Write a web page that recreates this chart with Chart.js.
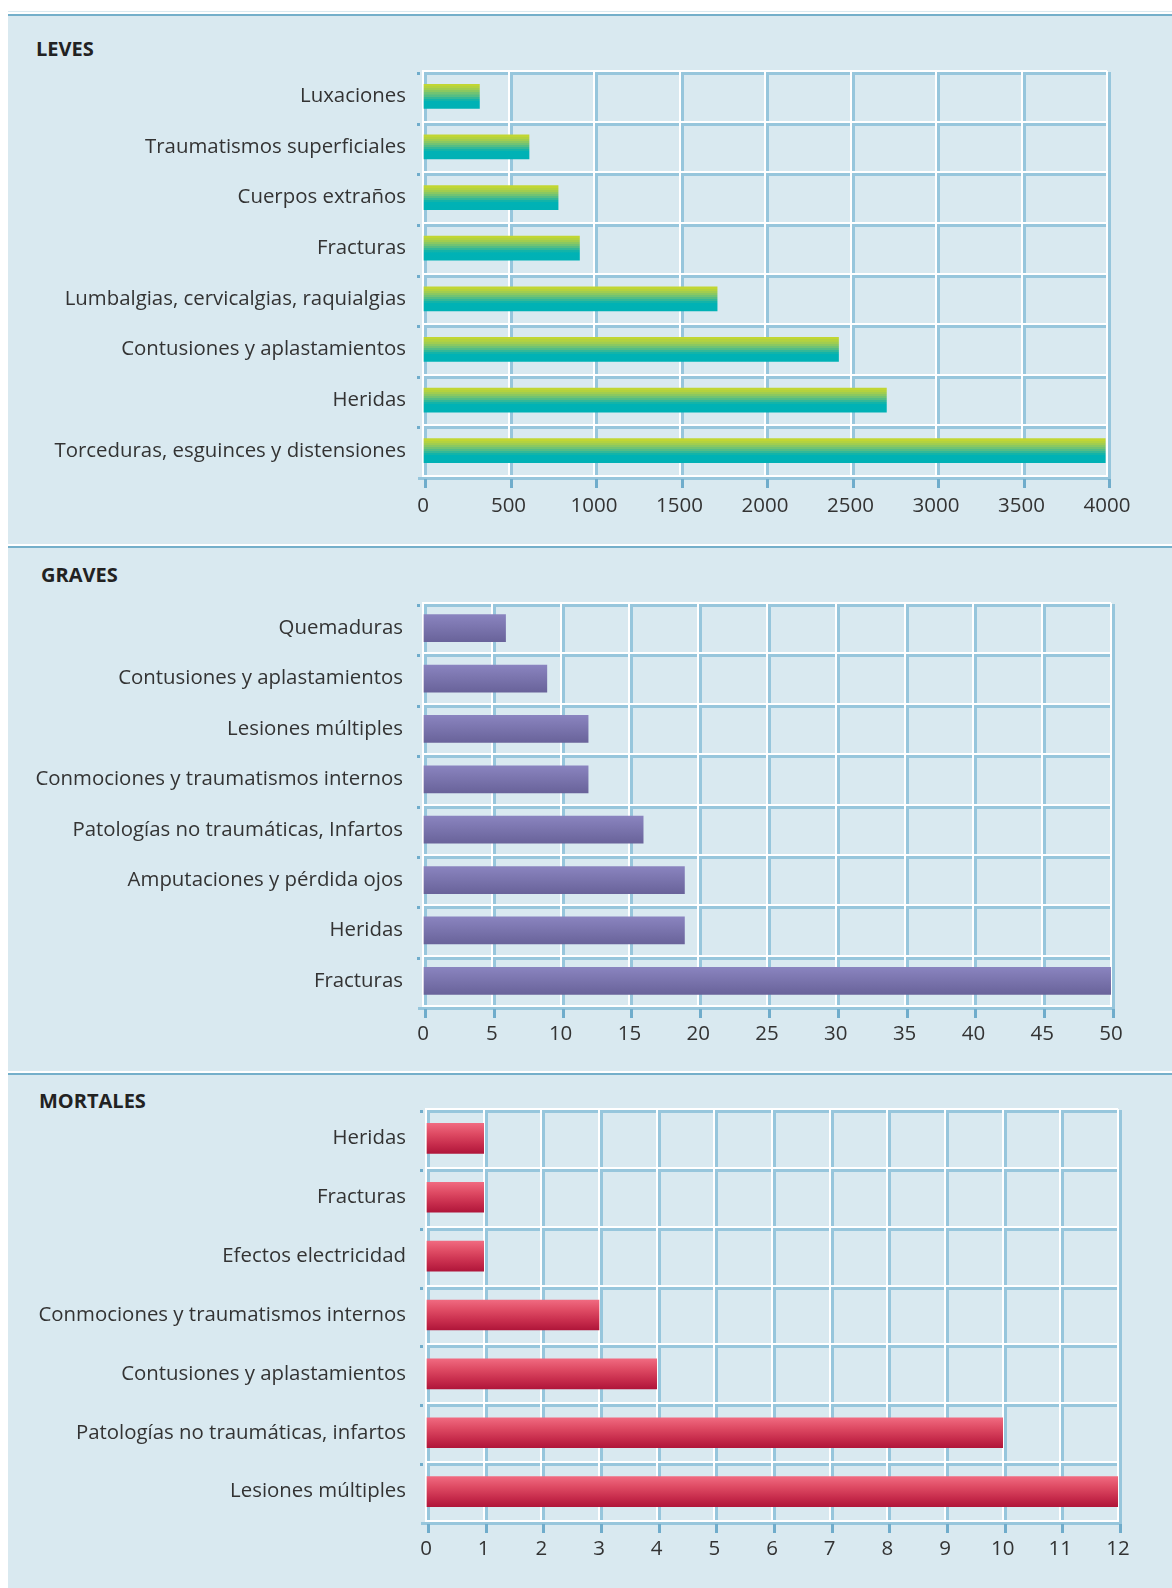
<!DOCTYPE html>
<html>
<head>
<meta charset="utf-8">
<script src="https://cdn.jsdelivr.net/npm/chart.js@4.4.1/dist/chart.umd.min.js"></script>
<style>
  body { margin: 0; background: #fff; width: 1172px; height: 1588px; position: relative; overflow: hidden; font-family: 'Open Sans', sans-serif; }
  #bg { position: absolute; left: 8px; top: 11px; right: 0; bottom: 0; background: #d9e9f0; }
  .sep { position: absolute; left: 8px; right: 0; height: 2px; background: #74afca; border-top: 2px solid #fff; }
  .title { position: absolute; font-weight: bold; font-size: 20px; color: #222; line-height: 20px; }
  canvas { position: absolute; left: 8px; }
</style>
</head>
<body>
<div id="bg"></div>
<div class="sep" style="top:12px"></div>
<div class="sep" style="top:544px"></div>
<div class="sep" style="top:1071px"></div>
<div class="title" style="left:36px; top:39px">LEVES</div>
<div class="title" style="left:41px; top:565px">GRAVES</div>
<div class="title" style="left:39px; top:1091px">MORTALES</div>
<canvas id="leves" width="1164" height="470" style="top:60px"></canvas>
<canvas id="graves" width="1164" height="475" style="top:585px"></canvas>
<canvas id="mortales" width="1164" height="498" style="top:1090px"></canvas>
<script>
// LEVES
const levesLabels = ['Luxaciones', 'Traumatismos superficiales', 'Cuerpos extraños', 'Fracturas',
    'Lumbalgias, cervicalgias, raquialgias', 'Contusiones y aplastamientos', 'Heridas',
    'Torceduras, esguinces y distensiones'];
const levesValues = [330, 620, 790, 915, 1720, 2430, 2710, 3990];
const levesTicks = [0, 500, 1000, 1500, 2000, 2500, 3000, 3500, 4000];

// GRAVES
const gravesLabels = ['Quemaduras', 'Contusiones y aplastamientos', 'Lesiones múltiples',
    'Conmociones y traumatismos internos', 'Patologías no traumáticas, Infartos',
    'Amputaciones y pérdida ojos', 'Heridas', 'Fracturas'];
const gravesValues = [6, 9, 12, 12, 16, 19, 19, 50];
const gravesTicks = [0, 5, 10, 15, 20, 25, 30, 35, 40, 45, 50];

// MORTALES
const mortalesLabels = ['Heridas', 'Fracturas', 'Efectos electricidad', 'Conmociones y traumatismos internos',
    'Contusiones y aplastamientos', 'Patologías no traumáticas, infartos', 'Lesiones múltiples'];
const mortalesValues = [1, 1, 1, 3, 4, 10, 12];
const mortalesTicks = [0, 1, 2, 3, 4, 5, 6, 7, 8, 9, 10, 11, 12];

// banded green -> teal, as in the print original
const levesBands = ['#c1d633', '#b3d23f', '#a1cd4f', '#8ac861', '#71c373', '#54bd85', '#33b898', '#12b4a9'];
const levesStops = [];
levesBands.forEach((c, i) => {
    levesStops.push([i * 0.085, c], [(i + 1) * 0.085 - 0.001, c]);
});
levesStops.push([0.68, '#00b2b5'], [1, '#00b1b5']);
const gravesStops = [[0, '#8a84bf'], [1, '#69639a']];
const mortalesStops = [[0, '#f06a80'], [0.35, '#de4a63'], [0.7, '#c72c4c'], [1, '#b0163a']];

// blue shadow behind the white grid + blue tick marks
const shadowGrid = {
    id: 'shadowGrid',
    beforeDraw(chart) {
        const { ctx, chartArea: a, scales: { x, y } } = chart;
        ctx.save();
        ctx.fillStyle = '#97c6dc';
        x.ticks.forEach((t, i) => {
            const px = Math.round(x.getPixelForTick(i));
            ctx.fillRect(px + 1, a.top + 1, 3, a.bottom - a.top + 3);
        });
        for (let i = 0; i <= y.ticks.length; i++) {
            const py = Math.round(y.getPixelForValue(i - 0.5));
            if (i === y.ticks.length) ctx.fillRect(a.left - 5, py + 1, 6, 3);
            ctx.fillRect(a.left + 1, py + 1, a.right - a.left + 3, 3);
        }
        ctx.fillStyle = '#6faccb';
        x.ticks.forEach((t, i) => {
            const px = Math.round(x.getPixelForTick(i));
            ctx.fillRect(px + 1, a.bottom + 3, 3, 9);
        });
        for (let i = 0; i < y.ticks.length; i++) {
            const py = Math.round(y.getPixelForValue(i - 0.5));
            ctx.fillRect(a.left - 6, py + 1, 3, 3);
        }
        ctx.restore();
    }
};

function barGradient(stops) {
    return (c) => {
        const { ctx, scales } = c.chart;
        if (!scales.y || c.dataIndex === undefined) return stops[0][1];
        const cy = scales.y.getPixelForValue(c.dataIndex);
        if (!isFinite(cy)) return stops[0][1];
        const h = c.dataset.barThickness;
        const g = ctx.createLinearGradient(0, cy - h / 2, 0, cy + h / 2);
        stops.forEach(([o, col]) => g.addColorStop(o, col));
        return g;
    };
}

function renderBarChart(id, labels, values, ticks, stops, cfg) {
    const ctx = document.getElementById(id).getContext('2d');
    new Chart(ctx, {
        type: 'bar',
        data: {
            labels: labels,
            datasets: [{
                data: values,
                backgroundColor: barGradient(stops),
                borderWidth: 0,
                barThickness: cfg.bar
            }]
        },
        options: {
            indexAxis: 'y',
            responsive: false,
            animation: false,
            layout: { padding: { top: cfg.top, right: cfg.right, left: 0, bottom: 0 } },
            scales: {
                x: {
                    min: ticks[0],
                    max: ticks[ticks.length - 1],
                    afterBuildTicks: (s) => { s.ticks = ticks.map(v => ({ value: v })); },
                    afterFit: (s) => { s.height = cfg.xh; s.paddingLeft = 0; s.paddingRight = 0; },
                    grid: { color: '#fff', lineWidth: 2, drawTicks: false },
                    border: { display: true, color: '#fff', width: 2 },
                    ticks: {
                        padding: cfg.xpad,
                        color: '#333',
                        font: { family: 'Open Sans', size: 20.5 },
                        maxRotation: 0,
                        autoSkip: false,
                        callback: (v) => String(v)
                    }
                },
                y: {
                    afterFit: (s) => { s.width = cfg.yw; s.paddingTop = 0; s.paddingBottom = 0; },
                    grid: { color: '#fff', lineWidth: 2, drawTicks: false, offset: true },
                    border: { display: true, color: '#fff', width: 2 },
                    ticks: {
                        padding: cfg.ypad,
                        color: '#333',
                        font: { family: 'Open Sans', size: 20.4 },
                        autoSkip: false
                    }
                }
            },
            plugins: {
                legend: { display: false },
                tooltip: { enabled: false }
            }
        },
        plugins: [shadowGrid]
    });
}

renderBarChart('leves', levesLabels, levesValues, levesTicks, levesStops,
    { bar: 24, top: 11, right: 65, xh: 54, xpad: 18, yw: 415, ypad: 17 });
renderBarChart('graves', gravesLabels, gravesValues, gravesTicks, gravesStops,
    { bar: 27, top: 18, right: 61, xh: 54, xpad: 16, yw: 415, ypad: 20 });
renderBarChart('mortales', mortalesLabels, mortalesValues, mortalesTicks, mortalesStops,
    { bar: 30, top: 19, right: 54, xh: 67, xpad: 16, yw: 418, ypad: 20 });
</script>
</body>
</html>
